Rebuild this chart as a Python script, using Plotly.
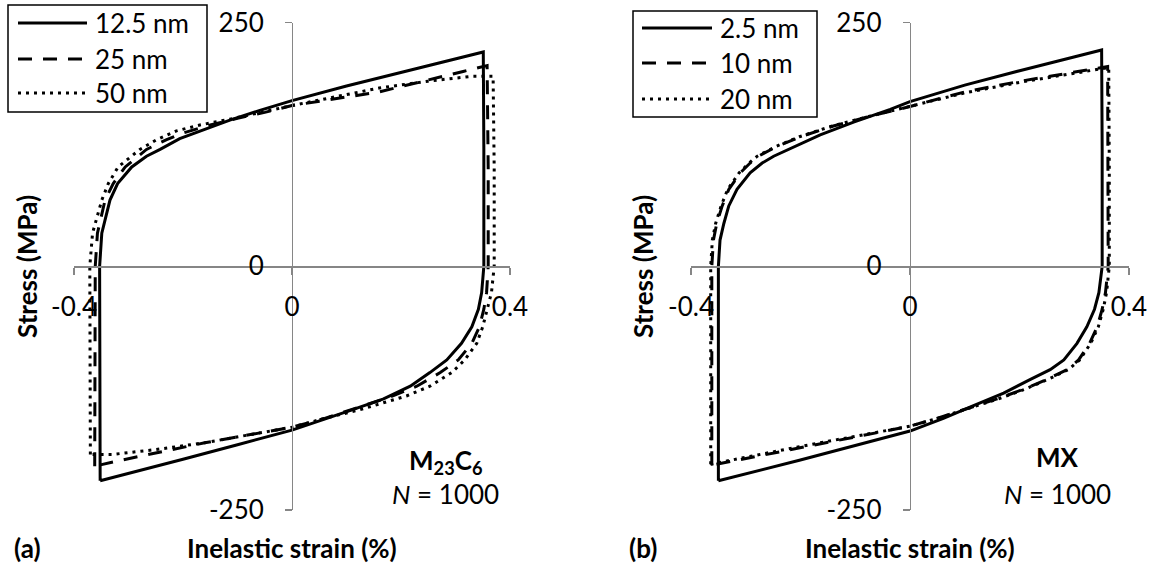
import plotly.graph_objects as go

# ---------------- data ----------------
# Panel (a): M23C6
a_labels = ["12.5 nm", "25 nm", "50 nm"]

a1_strain = [-0.352, -0.353, -0.353, -0.349, -0.341, -0.334, -0.320, -0.294, -0.267, -0.242, -0.206,
             -0.163, -0.114, -0.059, 0.000, 0.100, 0.200, 0.351,
             0.352, 0.352, 0.348, 0.342, 0.330, 0.311, 0.284, 0.253, 0.217, 0.168, 0.106, 0.070,
             0.000, -0.100, -0.200, -0.352]
a1_stress = [-220, -120, 0, 34, 52, 68, 85, 102, 113, 120, 131,
             140, 150, 160, 170, 185, 199, 220,
             120, 0, -27, -44, -62, -79, -96, -109, -123, -136, -148, -155,
             -168, -183, -198, -220]

a2_strain = [-0.362, -0.362, -0.361, -0.357, -0.343, -0.328, -0.306, -0.267, -0.230, -0.199, -0.150,
             -0.100, -0.050, 0.000, 0.160, 0.314, 0.358,
             0.360, 0.360, 0.357, 0.352, 0.344, 0.330, 0.305, 0.272, 0.229, 0.180, 0.120, 0.060,
             0.000, -0.160, -0.314, -0.362]
a2_stress = [-205, -100, 0, 34, 68, 85, 102, 120, 130, 137, 145,
             152, 158, 165, 179, 200, 206,
             100, 0, -27, -44, -62, -79, -96, -109, -123, -134, -145, -156,
             -165, -181, -199, -205]

a3_strain = [-0.370, -0.371, -0.371, -0.366, -0.349, -0.337, -0.319, -0.279, -0.248, -0.212, -0.169,
             -0.114, -0.060, 0.000, 0.160, 0.250, 0.330, 0.369,
             0.371, 0.371, 0.366, 0.358, 0.350, 0.339, 0.317, 0.293, 0.253, 0.210, 0.161, 0.125,
             0.060, 0.000, -0.160, -0.250, -0.330, -0.370]
a3_stress = [-193, -100, 0, 34, 68, 85, 102, 120, 130, 139, 145,
             151, 158, 165, 183, 190, 195, 195,
             100, 0, -27, -44, -62, -79, -96, -109, -123, -133, -141, -147,
             -156, -165, -181, -188, -193, -193]

# Panel (b): MX
b_labels = ["2.5 nm", "10 nm", "20 nm"]

b1_strain = [-0.350, -0.350, -0.350, -0.347, -0.340, -0.331, -0.316, -0.292, -0.270, -0.249, -0.206,
             -0.164, -0.103, -0.036, 0.000, 0.100, 0.202, 0.350,
             0.351, 0.351, 0.345, 0.337, 0.323, 0.305, 0.281, 0.256, 0.220, 0.171, 0.116, 0.061,
             0.000, -0.202, -0.350]
b1_stress = [-220, -120, 0, 27, 44, 62, 79, 96, 106, 113, 124,
             135, 148, 161, 169, 186, 201, 222,
             120, 0, -27, -44, -62, -79, -96, -106, -116, -130, -143, -156,
             -169, -199, -220]

b2_strain = [-0.362, -0.362, -0.362, -0.359, -0.353, -0.343, -0.331, -0.310, -0.292, -0.277, -0.243,
             -0.200, -0.140, -0.073, 0.000, 0.100, 0.202, 0.361,
             0.362, 0.362, 0.357, 0.351, 0.342, 0.328, 0.308, 0.287, 0.250, 0.208, 0.159, 0.104,
             0.049, 0.000, -0.202, -0.362]
b2_stress = [-204, -100, 0, 27, 44, 62, 79, 96, 106, 113, 123,
             133, 144, 154, 164, 179, 190, 205,
             100, 0, -27, -44, -62, -79, -96, -106, -116, -126, -136, -146,
             -156, -164, -186, -204]

b3_strain = [-0.364, -0.364, -0.364, -0.361, -0.355, -0.345, -0.333, -0.312, -0.294, -0.279, -0.245,
             -0.202, -0.142, -0.074, 0.000, 0.100, 0.202, 0.363,
             0.364, 0.364, 0.359, 0.353, 0.344, 0.330, 0.310, 0.289, 0.252, 0.210, 0.161, 0.106,
             0.050, 0.000, -0.202, -0.364]
b3_stress = [-203, -100, 0, 27, 44, 62, 79, 96, 106, 113, 123,
             133, 144, 154, 164, 178, 189, 204,
             100, 0, -27, -44, -62, -79, -96, -106, -116, -126, -136, -146,
             -156, -164, -185, -203]

x_ticks = [-0.4, 0, 0.4]
x_ticktext = ["-0.4", "0", "0.4"]
y_ticks = [-250, 0, 250]
y_ticktext = ["-250", "0", "250"]

# ---------------- styling ----------------
W, H = 1156, 572
FONT = "Lato, 'Open Sans', sans-serif"
AX = "#868686"
FS = 26
DASHES = ["solid", "14px,11px", "3px,5px"]

fig = go.Figure()

def add_series(xs, ys, name, dash, xa, ya):
    fig.add_trace(go.Scatter(
        x=xs, y=ys, mode="lines", name=name, showlegend=False,
        line=dict(color="black", width=3, dash=dash),
        xaxis=xa, yaxis=ya, hoverinfo="skip"))

for xs, ys, nm, d in zip([a1_strain, a2_strain, a3_strain], [a1_stress, a2_stress, a3_stress], a_labels, DASHES):
    add_series(xs, ys, nm, d, "x", "y")
for xs, ys, nm, d in zip([b1_strain, b2_strain, b3_strain], [b1_stress, b2_stress, b3_stress], b_labels, DASHES):
    add_series(xs, ys, nm, d, "x2", "y2")

ydom = [1 - 510 / H, 1 - 22.7 / H]
ymid = (ydom[0] + ydom[1]) / 2

common = dict(showgrid=False, zeroline=False, showline=True, linecolor=AX, linewidth=1.3,
              ticks="outside", ticklen=7, tickwidth=1.3, tickcolor=AX, automargin=False,
              tickfont=dict(family=FONT, size=FS, color="black"), fixedrange=True)

def xax(d0, d1):
    return dict(domain=[d0 / W, d1 / W], range=[-0.4, 0.4], anchor="free", position=ymid,
                tickvals=x_ticks, ticktext=x_ticktext, ticklabelstandoff=10, **common)

def yax(px):
    return dict(domain=ydom, range=[-250, 250], anchor="free", position=px / W,
                tickvals=y_ticks, ticktext=y_ticktext, ticklabelstandoff=16, **common)

fig.update_layout(
    width=W, height=H, margin=dict(l=0, r=0, t=0, b=0, pad=0, autoexpand=False),
    paper_bgcolor="white", plot_bgcolor="rgba(0,0,0,0)",
    showlegend=False, hovermode=False,
    xaxis=xax(74, 510), yaxis=yax(292),
    xaxis2=xax(691, 1129), yaxis2=yax(909.7),
)

def px_x(px):
    return px / W

def px_y(py):
    return 1 - py / H

def ann(text, px, py, size=FS, bold=False, angle=0, xanchor="center"):
    t = f"<b>{text}</b>" if bold else text
    fig.add_annotation(text=t, x=px_x(px), y=px_y(py), xref="paper", yref="paper",
                       xanchor=xanchor, yanchor="middle", showarrow=False, textangle=angle,
                       font=dict(family=FONT, size=size, color="black"))

# ---- hand-placed legends (box, line samples, labels) ----
def legend_box(x0, y0, x1, y1, line_x0, line_x1, text_x, rows, labels):
    fig.add_shape(type="rect", xref="paper", yref="paper",
                  x0=px_x(x0), x1=px_x(x1), y0=px_y(y1), y1=px_y(y0),
                  line=dict(color="black", width=1.5), fillcolor="white", layer="above")
    for ry, lab, d in zip(rows, labels, DASHES):
        fig.add_shape(type="line", xref="paper", yref="paper",
                      x0=px_x(line_x0), x1=px_x(line_x1), y0=px_y(ry), y1=px_y(ry),
                      line=dict(color="black", width=3, dash=d), layer="above")
        ann(lab, text_x, ry, xanchor="left")

legend_box(8, 5, 207, 112, 18, 87, 93, [23, 59, 93], a_labels)
legend_box(633, 11, 817, 117, 642, 712, 718, [28, 63, 99], b_labels)

# panel (a)
ann("Stress (MPa)", 27, 267, bold=True, angle=-90)
ann("Inelastic strain (%)", 292, 548, bold=True)
ann("(a)", 27, 548, bold=True)
ann("M<sub>23</sub>C<sub>6</sub>", 445, 461, bold=True)
ann("<i>N</i> = 1000", 445, 494)
# panel (b)
ann("Stress (MPa)", 643, 267, bold=True, angle=-90)
ann("Inelastic strain (%)", 910, 548, bold=True)
ann("(b)", 643, 548, bold=True)
ann("MX", 1057, 457, bold=True)
ann("<i>N</i> = 1000", 1057, 494)

# the page's default 8px body margin would offset the figure; remove it
fig.write_html("out.html", config={"displayModeBar": False, "staticPlot": True},
               post_script="document.body.style.margin='0';")
